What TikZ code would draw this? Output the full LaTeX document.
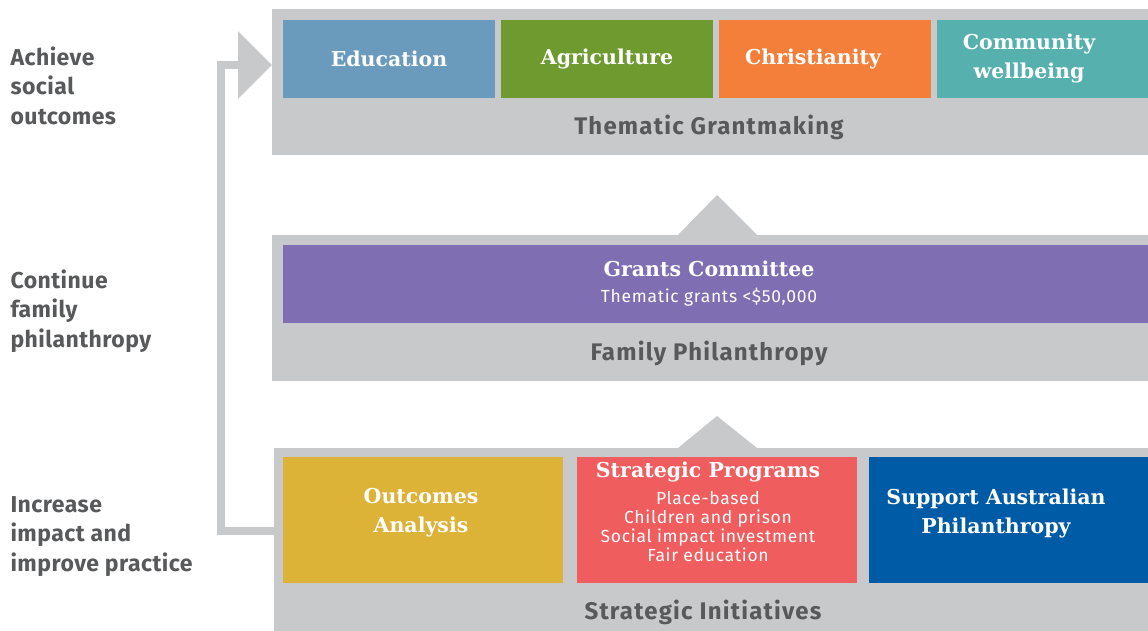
\documentclass[tikz,border=0pt]{standalone}
\usepackage{fontspec}
\setmainfont{DejaVu Serif}
\setsansfont{Fira Sans}
\usetikzlibrary{arrows.meta}
\definecolor{panelgrey}{HTML}{C8C9CB}
\definecolor{labelgrey}{HTML}{58595B}
\definecolor{educationblue}{HTML}{6A9BBD}
\definecolor{agrigreen}{HTML}{6E9A2F}
\definecolor{christorange}{HTML}{F47F3A}
\definecolor{communityteal}{HTML}{55B0AE}
\definecolor{grantspurple}{HTML}{806EB3}
\definecolor{outcomesgold}{HTML}{DCB237}
\definecolor{programsred}{HTML}{F05D5E}
\definecolor{supportblue}{HTML}{005BA6}
\tikzset{
  panel/.style={fill=panelgrey, anchor=north west, inner sep=0pt, minimum width=876pt, minimum height=146pt},
  tile/.style={anchor=north west, inner sep=0pt},
  tiletext/.style={text=white, font=\bfseries\fontsize{20.5}{29}\selectfont, align=center},
  subtext/.style={text=white, font=\sffamily\fontsize{17.5}{19}\selectfont\addfontfeature{LetterSpace=4}, align=center},
  panellabel/.style={text=labelgrey, font=\sffamily\bfseries\fontsize{24}{28}\selectfont\addfontfeature{LetterSpace=5}},
  sidelabel/.style={text=labelgrey, font=\sffamily\bfseries\fontsize{23}{29.5}\selectfont\addfontfeature{LetterSpace=2}, align=left, anchor=west},
  loopline/.style={draw=panelgrey, line width=8pt, line join=miter, -{Triangle[width=66pt,length=34pt]}}
}
\begin{document}
\begin{tikzpicture}[x=1pt, y=-1pt]
  \useasboundingbox (0,0) rectangle (1148,631);
  \clip (0,0) rectangle (1148,631);

  \node [panel] (tgPanel) at (272,9) {};
  \node [panel] (fpPanel) at (272,235) {};
  \node [panel, minimum width=874pt, minimum height=183pt] (siPanel) at (274,448) {};

  \fill [panelgrey] (678,235) -- (717,195) -- (757,235) -- cycle;
  \fill [panelgrey] (678,448) -- (717,416) -- (757,448) -- cycle;

  \node [tile, fill=educationblue, minimum width=212pt, minimum height=78pt] (edu) at (283,20) {};
  \node [tile, fill=agrigreen, minimum width=212pt, minimum height=78pt] (agri) at (501,20) {};
  \node [tile, fill=christorange, minimum width=212pt, minimum height=78pt] (christ) at (719,20) {};
  \node [tile, fill=communityteal, minimum width=211pt, minimum height=78pt] (comm) at (937,20) {};
  \node [tile, fill=grantspurple, minimum width=865pt, minimum height=78pt] (grants) at (283,245) {};
  \node [tile, fill=outcomesgold, minimum width=280pt, minimum height=126pt] (outcomes) at (283,457) {};
  \node [tile, fill=programsred, minimum width=280pt, minimum height=126pt] (programs) at (577,457) {};
  \node [tile, fill=supportblue, minimum width=279pt, minimum height=126pt] (support) at (869,457) {};

  \node [tiletext] (eduText) at (389,59) {Education};
  \node [tiletext] (agriText) at (607,59) {Agriculture};
  \node [tiletext] (christText) at (813,59) {Christianity};
  \node [tiletext] (commText) at (1029,58.5) {Community\\wellbeing};
  \node [tiletext] (grantsText) at (709,269) {Grants Committee};
  \node [subtext] (grantsSub) at (709,297) {Thematic grants <\$50,000};
  \node [tiletext] (outcomesText) at (421,512.5) {Outcomes\\Analysis};
  \node [tiletext] (programsText) at (708,472) {Strategic Programs};
  \node [subtext] (programsList) at (708,526.5) {Place-based\\Children and prison\\Social impact investment\\Fair education};
  \node [tiletext] (supportText) at (996,513) {Support Australian\\Philanthropy};

  \node [panellabel] (tgLabel) at (709,127) {Thematic Grantmaking};
  \node [panellabel] (fpLabel) at (709,353) {Family Philanthropy};
  \node [panellabel] (siLabel) at (703,612) {Strategic Initiatives};

  \node [sidelabel] (achieve) at (7,85.5) {Achieve\\social\\outcomes};
  \node [sidelabel] (continue) at (7,311) {Continue\\family\\philanthropy};
  \node [sidelabel] (increase) at (7,536.5) {Increase\\impact and\\improve practice};

  \draw [loopline] (siPanel.west |- 0,530.5) -| (221,65) -- (tgPanel.west |- 0,65);
\end{tikzpicture}
\end{document}
